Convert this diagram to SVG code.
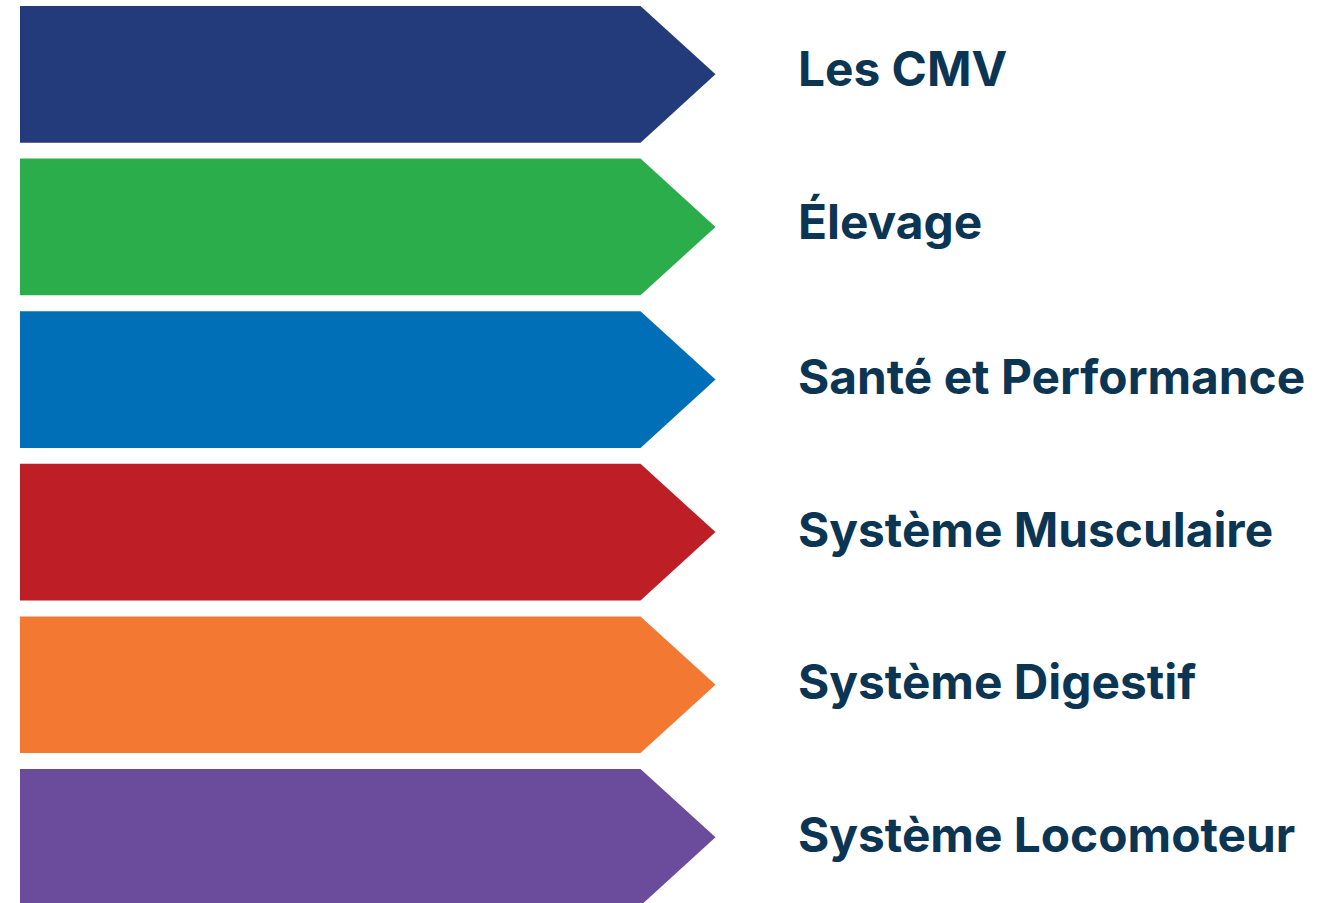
<svg xmlns="http://www.w3.org/2000/svg" width="1340" height="903" viewBox="0 0 1340 903">
<style>
.lbl{font-family:Inter,"Liberation Sans",sans-serif;font-weight:700;font-size:47.8px;fill:#0C3553}
</style>
<defs>
<polygon id="arw" points="20,0 640.5,0 715.5,68.3 640.5,136.7 20,136.7"/>
</defs>
<rect width="1340" height="903" fill="#fff"/>
<g id="n1"><use href="#arw" y="6" fill="#233B7A"/><text class="lbl" x="798" y="86">Les CMV</text></g>
<g id="n2"><use href="#arw" y="158.6" fill="#2AAD4A"/><text class="lbl" x="798" y="239">Élevage</text></g>
<g id="n3"><use href="#arw" y="311.2" fill="#006FB7"/><text class="lbl" x="798" y="394">Santé et Performance</text></g>
<g id="n4"><use href="#arw" y="463.8" fill="#BE1E25"/><text class="lbl" x="798" y="547">Système Musculaire</text></g>
<g id="n5"><use href="#arw" y="616.4" fill="#F37831"/><text class="lbl" x="798" y="699">Système Digestif</text></g>
<g id="n6"><use href="#arw" y="769" fill="#6A4B9C"/><text class="lbl" x="798" y="852">Système Locomoteur</text></g>
<g id="connectors"/>
</svg>
